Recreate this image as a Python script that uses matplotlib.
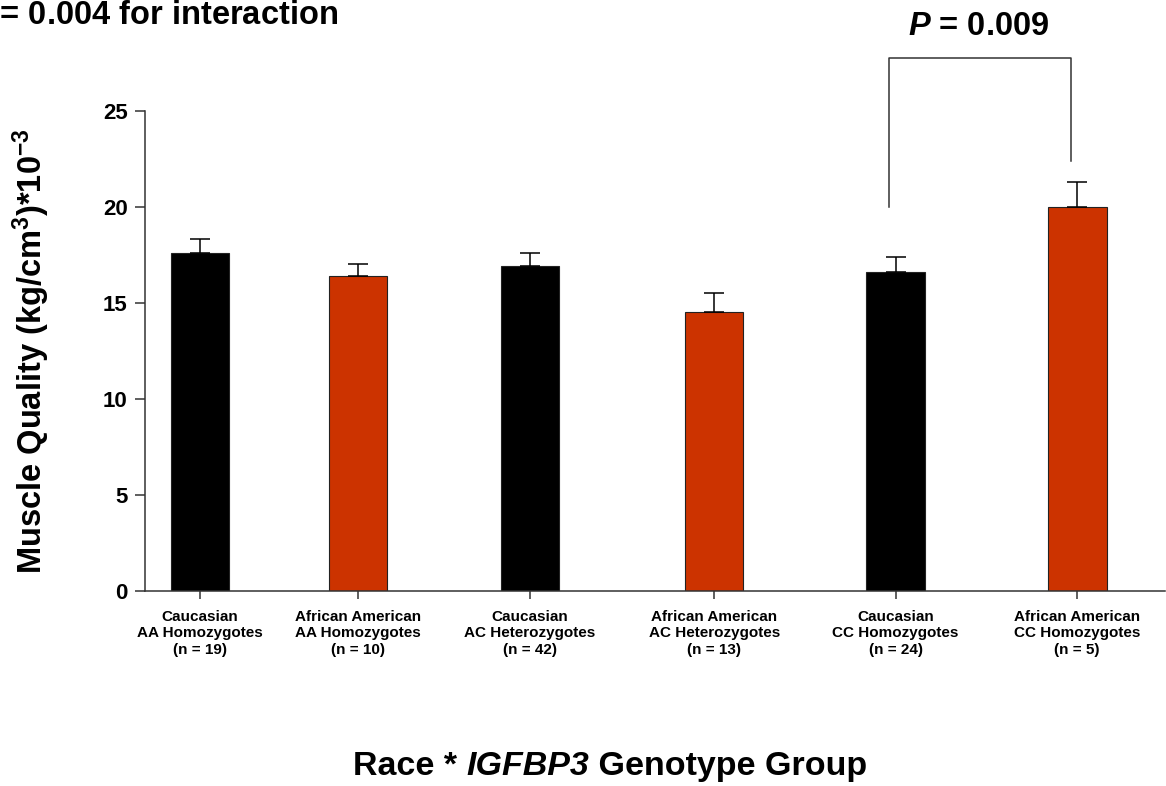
import matplotlib.pyplot as plt

plt.rcParams['font.family'] = 'Liberation Sans'
plt.rcParams['font.weight'] = 'bold'
plt.rcParams['mathtext.fontset'] = 'custom'
plt.rcParams['mathtext.rm'] = 'Liberation Sans:bold'
plt.rcParams['mathtext.it'] = 'Liberation Sans:italic:bold'
plt.rcParams['mathtext.bf'] = 'Liberation Sans:bold'

# Groups: race * IGFBP3 genotype
groups = [
    "Caucasian\nAA Homozygotes\n(n = 19)",
    "African American\nAA Homozygotes\n(n = 10)",
    "Caucasian\nAC Heterozygotes\n(n = 42)",
    "African American\nAC Heterozygotes\n(n = 13)",
    "Caucasian\nCC Homozygotes\n(n = 24)",
    "African American\nCC Homozygotes\n(n = 5)",
]
means = [17.6, 16.4, 16.9, 14.5, 16.6, 20.0]
errs = [0.7, 0.6, 0.7, 1.0, 0.8, 1.3]
races = ["Caucasian", "African American", "Caucasian",
         "African American", "Caucasian", "African American"]

race_colors = {"Caucasian": "black", "African American": "#CC3300"}
xpos = [0, 0.863, 1.803, 2.809, 3.80, 4.792]

fig = plt.figure(figsize=(11.66, 7.86), dpi=100)
ax = fig.add_axes([0.1244, 0.2485, 0.8745, 0.6107])

ax.bar(xpos, means, width=0.32, color=[race_colors[r] for r in races],
       edgecolor='#222222', linewidth=0.8, zorder=2)
ax.errorbar(xpos, means, yerr=[[0] * len(errs), errs], fmt='none',
            ecolor='black', elinewidth=1.1, capsize=7, capthick=1.1, zorder=3)

ax.set_xlim(-0.30, 5.27)
ax.set_ylim(0, 25)
ax.set_yticks([0, 5, 10, 15, 20, 25])
ax.set_xticks(xpos)
ax.set_xticklabels(groups, fontsize=11, linespacing=1.2)
ax.tick_params(axis='y', labelsize=16, length=7, width=1.1, pad=5.5, color='#333333')
ax.tick_params(axis='x', length=6, width=1.1, pad=8, color='#333333')
for s in ['top', 'right']:
    ax.spines[s].set_visible(False)
for s in ['left', 'bottom']:
    ax.spines[s].set_linewidth(1.1)
    ax.spines[s].set_color('#333333')

fig.text(0.027, 0.553, r"Muscle Quality (kg/cm$^{3}$)*10$^{-3}$", fontsize=23.5,
         fontweight='bold', rotation=90, ha='center', va='center')

# significance bracket between CC homozygote groups
bx0 = xpos[4] - 0.035
bx1 = xpos[5] - 0.035
ax.plot([bx0, bx0, bx1, bx1], [20.0, 27.76, 27.76, 22.4], color='#333333',
        linewidth=1.1, clip_on=False)

fig.text(0.839, 0.955, r"$P$ = 0.009", fontsize=23.5, ha='center', va='baseline')
fig.text(0.290, 0.9695, r"$P$ = 0.004 for interaction", fontsize=23.5,
         ha='right', va='baseline')

# x-axis title with the gene name in italics, laid out piece by piece
renderer = fig.canvas.get_renderer()
pieces = [("Race * ", 'normal'), ("IGFBP3", 'italic'), (" Genotype Group", 'normal')]
texts = [fig.text(0, 0.014, s, fontsize=24.5, fontstyle=st, va='baseline')
         for s, st in pieces]
widths = [t.get_window_extent(renderer).width / fig.bbox.width for t in texts]
x = 0.523 - sum(widths) / 2
for t, w in zip(texts, widths):
    t.set_x(x)
    x += w

fig.savefig('out.png', dpi=100)
